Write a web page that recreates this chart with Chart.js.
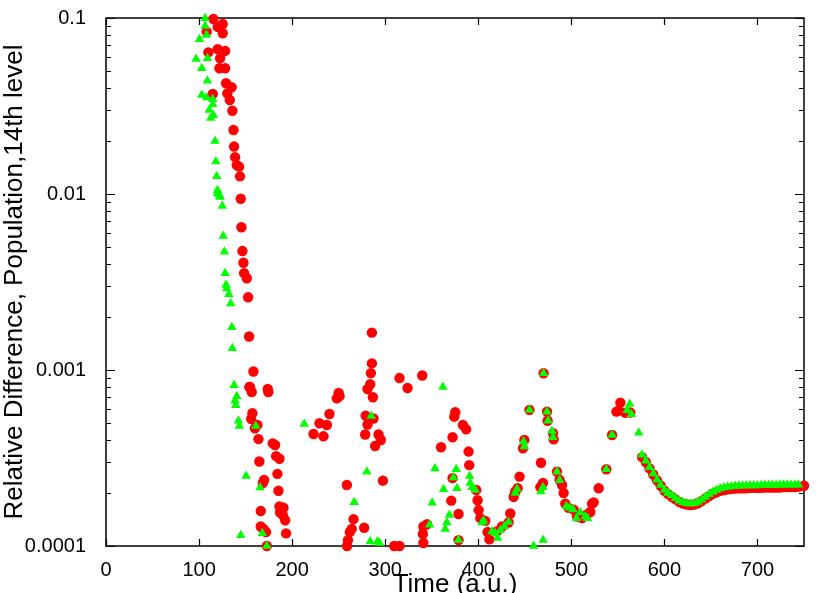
<!DOCTYPE html>
<html>
<head>
<meta charset="utf-8">
<script src="https://cdn.jsdelivr.net/npm/chart.js@4/dist/chart.umd.min.js"></script>
<style>
  html, body { margin: 0; padding: 0; background: #fff; }
  canvas { display: block; }
</style>
</head>
<body>
<canvas id="grafik" width="830" height="593"></canvas>
<script>
// ── VERI: [zaman (a.u.), bagil fark] ──
const kirmiziNoktalar = [
  [108.2, 0.0836], [110, 0.0638], [114.7, 0.037], [115.4, 0.0987], [120, 0.089], [120, 0.0665],
  [121.9, 0.0518], [122.6, 0.059], [125.4, 0.0925], [125.4, 0.0819], [128, 0.065], [128, 0.0518],
  [129, 0.0426], [130.4, 0.0373], [133, 0.0342], [135, 0.0404], [135.8, 0.0297], [137, 0.0231],
  [137.6, 0.0186], [138.7, 0.0162], [140.5, 0.0146], [143, 0.0143], [144, 0.0126], [144.8, 0.0094],
  [145.5, 0.00647], [146.6, 0.00474], [147.7, 0.00407], [148.4, 0.00355], [151.3, 0.00332],
  [152.7, 0.00259], [153.8, 0.00155], [154, 0.0008], [154.8, 0.0008], [156, 0.000527],
  [156.6, 0.00075], [157.3, 0.000568], [158.4, 0.00098], [160, 0.000466], [162.7, 0.000487],
  [163.8, 0.000405], [164.8, 0.000302], [166.3, 0.000158], [166.3, 0.000129], [168.5, 0.000228],
  [169.2, 0.000125], [169.9, 0.000237], [172, 0.00012], [172.8, 0.0001], [173.8, 0.00078],
  [174.5, 0.00075], [179.2, 0.000383], [181.7, 0.000375], [182.8, 0.000324], [184.2, 0.000257],
  [185.3, 0.000206], [186.4, 0.000313], [186.4, 0.000168], [187, 0.000155], [190, 0.00015],
  [190.7, 0.000165], [192.5, 0.00014], [193.5, 0.000118],
  [223, 0.000433], [229.4, 0.000498], [233.7, 0.00042], [237.3, 0.000487], [240.1, 0.000562],
  [248, 0.00069], [250, 0.00074], [251, 0.00071], [258.8, 0.000222], [259, 0.0001], [260, 0.000108],
  [262, 0.00012], [264, 0.000125], [266, 0.000142], [277.4, 0.000127], [278.5, 0.00043],
  [279, 0.00055], [281, 0.00049], [281, 0.00078], [283.9, 0.00083], [284.6, 0.00096],
  [285.7, 0.00109], [285.7, 0.00163], [286.8, 0.0007], [287.4, 0.00053], [289.2, 0.00037],
  [292.8, 0.00043], [295.4, 0.0004], [297.5, 0.000235], [309.7, 0.0001], [315.4, 0.0001],
  [315.4, 0.0009], [324, 0.00079], [339.8, 0.00093], [340.5, 0.000117], [341, 0.000129],
  [341, 0.000104], [345, 0.000133],
  [360, 0.000364], [371, 0.000181], [372.4, 0.000415], [372.4, 0.000243], [374.2, 0.000543],
  [375.3, 0.000575], [378.8, 0.000152], [378.8, 0.000108], [383.5, 0.000487], [387, 0.00046],
  [389.6, 0.000344], [390.3, 0.000288], [397.8, 0.000208], [399.3, 0.000182], [400.4, 0.00016],
  [402.2, 0.000144], [407.5, 0.000139], [410, 0.00012], [412, 0.000109], [420, 0.000121],
  [425.5, 0.000129], [432.6, 0.000136], [434.4, 0.000153], [438, 0.00019], [439.8, 0.000204],
  [442.3, 0.000213], [444.4, 0.000248], [448, 0.000359], [449.5, 0.0004], [455, 0.000593],
  [466.7, 0.000216], [467.4, 0.000297], [469.5, 0.000228], [470.2, 0.000958], [473.9, 0.00058],
  [474.5, 0.000515], [480.3, 0.000438], [481, 0.000404], [484.6, 0.000264], [487.4, 0.000237],
  [490, 0.000222], [491.7, 0.0002], [493.5, 0.000174], [497, 0.000165], [502.5, 0.000161],
  [506, 0.000147], [511.5, 0.000144], [516.9, 0.000151], [520.4, 0.000156], [522.3, 0.000174],
  [524, 0.000177], [529.4, 0.000213], [537.6, 0.000273], [543.8, 0.000427], [548.4, 0.00058],
  [550.9, 0.000588], [552.7, 0.000652], [558.1, 0.000572], [563.4, 0.000573],
  [576, 0.00032], [580, 0.0003], [584, 0.000276], [588, 0.000255], [592, 0.000236], [596, 0.00022],
  [600, 0.000206], [604, 0.000197], [608, 0.00019], [612, 0.000184], [616, 0.000178],
  [620, 0.000174], [624, 0.000172], [628, 0.000171], [632, 0.000172], [636, 0.000175],
  [640, 0.00018], [644, 0.000186], [648, 0.000192], [652, 0.000198], [656, 0.000202],
  [660, 0.000206], [664, 0.000208], [668, 0.00021], [672, 0.000211], [676, 0.000212],
  [680, 0.000213], [684, 0.000213], [688, 0.000213], [692, 0.000214], [696, 0.000214],
  [700, 0.000214], [704, 0.000214], [708, 0.000215], [712, 0.000215], [716, 0.000215],
  [720, 0.000215], [724, 0.000215], [728, 0.000216], [732, 0.000216], [736, 0.000216],
  [740, 0.000216], [744, 0.000217], [750, 0.00022]
]

const yesilNoktalar = [
  [96.8, 0.0585], [100.4, 0.0757], [102.9, 0.0518], [102.9, 0.0365], [106.5, 0.0996], [106.5, 0.09],
  [108, 0.08], [108.2, 0.0353], [109, 0.059], [109, 0.044], [111, 0.03], [112.6, 0.027],
  [114.7, 0.0345], [114.7, 0.0324], [115.4, 0.028], [117.2, 0.02], [118, 0.0153], [119, 0.0126],
  [119.7, 0.0105], [120, 0.0101], [121.8, 0.0099], [122.6, 0.0096], [125, 0.00855], [126, 0.00577],
  [127.2, 0.0047], [128, 0.00355], [129, 0.00304], [129.8, 0.0029], [132, 0.00269], [134, 0.00239],
  [135.2, 0.00175], [135.8, 0.00133], [137.6, 0.00082], [138.7, 0.00067], [139.5, 0.00063],
  [140.5, 0.00071], [142.3, 0.000515], [143.3, 0.00048], [144.8, 0.000115], [150.5, 0.00025],
  [161, 0.00048], [165.6, 0.000215], [168, 0.000118], [172.8, 0.0001],
  [213, 0.000493], [266.7, 0.000177], [280.3, 0.000264], [283.9, 0.000106], [285, 0.000548],
  [291.7, 0.000106], [293.9, 0.000104],
  [347.7, 0.000132], [350.5, 0.000176], [353.4, 0.000276], [362, 0.0008], [362.7, 0.00021],
  [364.5, 0.000125], [366.3, 0.000136], [369, 0.00015], [373.4, 0.000245], [376.3, 0.000273],
  [377.1, 0.000213], [378.8, 0.000108], [390.7, 0.00025], [391.4, 0.000228], [393.2, 0.000216],
  [396.8, 0.000208], [404, 0.000136], [405.7, 0.000139], [414.7, 0.000121], [418.3, 0.000118],
  [420.8, 0.000111], [423.7, 0.000123], [428, 0.000129], [432.6, 0.000137], [439.8, 0.0002],
  [441.6, 0.000211], [448.7, 0.000392], [449.5, 0.000367], [455, 0.000593], [459.5, 0.0001],
  [467.4, 0.000204], [469.6, 0.000216], [469.6, 0.000108], [470.2, 0.000958], [473.9, 0.00058],
  [475, 0.000515], [479.2, 0.00045], [480.3, 0.000415], [484.6, 0.000264], [487.4, 0.000236],
  [494.6, 0.000168], [498.2, 0.000165], [501.8, 0.000161], [505.4, 0.000144], [509.7, 0.000155],
  [515, 0.000147], [517.5, 0.000144], [537.6, 0.000273], [543.8, 0.000427],
  [560, 0.00059], [562.7, 0.00064], [564.5, 0.00056], [572.4, 0.00044],
  [576, 0.00033], [580, 0.000305], [584, 0.00028], [588, 0.000258], [592, 0.000238], [596, 0.000222],
  [600, 0.000208], [604, 0.0002], [608, 0.000194], [612, 0.000187], [616, 0.000181],
  [620, 0.000177], [624, 0.000175], [628, 0.000174], [632, 0.000175], [636, 0.000178],
  [640, 0.000183], [644, 0.00019], [648, 0.000197], [652, 0.000203], [656, 0.000208],
  [660, 0.000212], [664, 0.000215], [668, 0.000217], [672, 0.000218], [676, 0.000219],
  [680, 0.00022], [684, 0.00022], [688, 0.000221], [692, 0.000221], [696, 0.000221],
  [700, 0.000221], [704, 0.000222], [708, 0.000222], [712, 0.000222], [716, 0.000222],
  [720, 0.000222], [724, 0.000223], [728, 0.000223], [732, 0.000223], [736, 0.000223],
  [740, 0.000223], [744, 0.000223]
]

const xTikler = [0, 100, 200, 300, 400, 500, 600, 700]
const yTikler = [
  0.0001, 0.0002, 0.0003, 0.0004, 0.0005, 0.0006, 0.0007, 0.0008, 0.0009,
  0.001, 0.002, 0.003, 0.004, 0.005, 0.006, 0.007, 0.008, 0.009,
  0.01, 0.02, 0.03, 0.04, 0.05, 0.06, 0.07, 0.08, 0.09, 0.1
]
const yEtiketler = [
  '0.0001', '', '', '', '', '', '', '', '',
  '0.001', '', '', '', '', '', '', '', '',
  '0.01', '', '', '', '', '', '', '', '',
  '0.1'
]

const yazi = '"Liberation Sans", Arial, Helvetica, sans-serif'

// ── Cerceve ve iceri bakan tikler (gnuplot gibi) ──
const cerceve = {
  id: 'cerceve',
  beforeDatasetsDraw(chart) {
    const { ctx, chartArea: a, scales: { x, y } } = chart
    ctx.save()
    ctx.strokeStyle = '#000'
    ctx.lineWidth = 1.2
    ctx.beginPath()
    x.ticks.forEach(t => {
      const px = Math.round(x.getPixelForValue(t.value)) + 0.5
      ctx.moveTo(px, a.bottom); ctx.lineTo(px, a.bottom - 7)
      ctx.moveTo(px, a.top); ctx.lineTo(px, a.top + 7)
    })
    y.ticks.forEach((t, i) => {
      const py = Math.round(y.getPixelForValue(t.value)) + 0.5
      const boy = yEtiketler[i] ? 9 : 5
      ctx.moveTo(a.left, py); ctx.lineTo(a.left + boy, py)
      ctx.moveTo(a.right, py); ctx.lineTo(a.right - boy, py)
    })
    ctx.stroke()
    ctx.lineWidth = 1.5
    ctx.strokeRect(a.left, a.top, a.right - a.left, a.bottom - a.top)
    ctx.restore()
  }
}

new Chart(document.getElementById('grafik'), {
  type: 'scatter',
  data: {
    datasets: [
      {
        data: yesilNoktalar.map(([t, d]) => ({ x: t, y: d })),
        pointStyle: 'triangle',
        pointRadius: 5.5,
        backgroundColor: '#00ff00',
        borderWidth: 0,
        clip: false,
        order: 1
      },
      {
        data: kirmiziNoktalar.map(([t, d]) => ({ x: t, y: d })),
        pointStyle: 'circle',
        pointRadius: 5.2,
        backgroundColor: '#ff0000',
        borderWidth: 0,
        clip: false,
        order: 2
      }
    ]
  },
  options: {
    responsive: false,
    animation: false,
    events: [],
    layout: { padding: { top: 18, right: 26, left: 0, bottom: 0 } },
    plugins: { legend: { display: false }, tooltip: { enabled: false } },
    scales: {
      x: {
        type: 'linear',
        min: 0,
        max: 750,
        grid: { display: false },
        border: { display: false },
        afterBuildTicks: s => { s.ticks = xTikler.map(v => ({ value: v })) },
        afterFit: s => { s.height = 47; s.paddingLeft = 0; s.paddingRight = 0 },
        ticks: {
          autoSkip: false,
          padding: 4,
          color: '#000',
          font: { family: yazi, size: 20 }
        },
        title: {
          display: true,
          text: 'Time (a.u.)',
          color: '#000',
          font: { family: yazi, size: 26, lineHeight: 1 },
          padding: { top: 0, bottom: -5 }
        }
      },
      y: {
        type: 'logarithmic',
        min: 0.0001,
        max: 0.1,
        grid: { display: false },
        border: { display: false },
        afterBuildTicks: s => { s.ticks = yTikler.map(v => ({ value: v })) },
        afterFit: s => { s.width = 106; s.paddingTop = 0; s.paddingBottom = 0 },
        ticks: {
          autoSkip: false,
          padding: 12,
          color: '#000',
          font: { family: yazi, size: 20 },
          callback: (v, i) => yEtiketler[i]
        },
        title: {
          display: true,
          text: 'Relative Difference, Population,14th level',
          color: '#000',
          font: { family: yazi, size: 26, lineHeight: 1 },
          padding: { top: 2, bottom: 0 }
        }
      }
    }
  },
  plugins: [cerceve]
})
</script>
</body>
</html>
